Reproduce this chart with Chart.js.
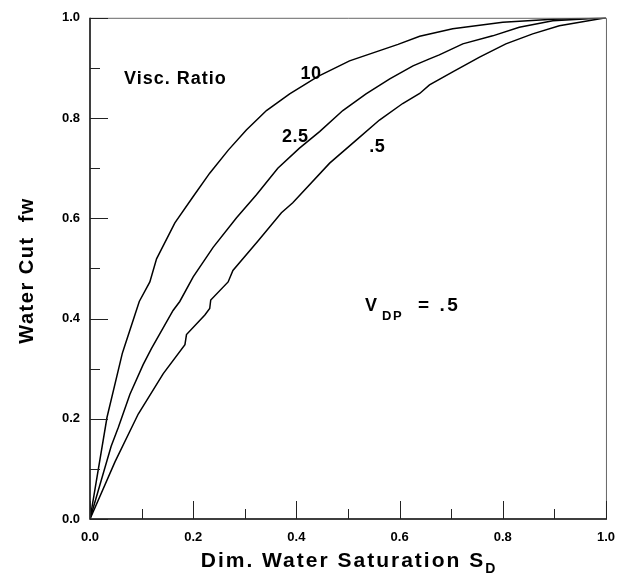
<!DOCTYPE html>
<html>
<head>
<meta charset="utf-8">
<script src="https://cdn.jsdelivr.net/npm/chart.js@4.4.1/dist/chart.umd.min.js"></script>
<style>
  html, body { margin: 0; padding: 0; background: #fff; }
  #wrap { width: 626px; height: 576px; }
</style>
</head>
<body>
<div id="wrap"><canvas id="fwChart" width="626" height="576"></canvas></div>
<script>
// dimensionless water saturation (x) and water cut (y)
const sdVisc10 = [0, 0.033, 0.0625, 0.066, 0.086, 0.0955, 0.116, 0.129, 0.1645, 0.199, 0.232, 0.268, 0.303, 0.342, 0.387, 0.442, 0.503, 0.597, 0.639, 0.703, 0.80, 0.897, 1.0];
const fwVisc10 = [0, 0.203, 0.33, 0.341, 0.404, 0.434, 0.473, 0.519, 0.591, 0.642, 0.690, 0.736, 0.776, 0.815, 0.848, 0.883, 0.914, 0.947, 0.963, 0.978, 0.991, 0.997, 1.0];

const sdVisc25 = [0, 0.041, 0.055, 0.0774, 0.103, 0.119, 0.161, 0.174, 0.2, 0.2386, 0.284, 0.3226, 0.364, 0.406, 0.445, 0.490, 0.535, 0.581, 0.626, 0.658, 0.677, 0.7225, 0.7805, 0.832, 0.897, 1.0];
const fwVisc25 = [0, 0.145, 0.183, 0.249, 0.308, 0.340, 0.416, 0.434, 0.483, 0.542, 0.601, 0.647, 0.700, 0.740, 0.773, 0.815, 0.848, 0.878, 0.904, 0.918, 0.926, 0.948, 0.964, 0.981, 0.994, 1.0];

const sdVisc05 = [0, 0.0484, 0.0935, 0.142, 0.184, 0.187, 0.2226, 0.232, 0.234, 0.2677, 0.277, 0.326, 0.371, 0.393, 0.4645, 0.516, 0.561, 0.606, 0.639, 0.658, 0.703, 0.755, 0.806, 0.858, 0.9096, 1.0];
const fwVisc05 = [0, 0.114, 0.2095, 0.29, 0.348, 0.368, 0.407, 0.42, 0.437, 0.473, 0.496, 0.555, 0.611, 0.631, 0.710, 0.756, 0.796, 0.829, 0.849, 0.866, 0.892, 0.9215, 0.948, 0.968, 0.984, 1.0];

const curveLabels = ["10", "2.5", ".5"];
const majorTicks = [0, 0.2, 0.4, 0.6, 0.8, 1.0];
const minorTicks = [0.1, 0.3, 0.5, 0.7, 0.9];

const FONT = "'Liberation Sans', Arial, sans-serif";

function toPoints(xs, ys) {
    return xs.map((x, i) => ({ x: x, y: ys[i] }));
}

// box, inward ticks, titles and curve notes
const decorations = {
    id: "decorations",
    afterDraw(chart) {
        const ctx = chart.ctx;
        const area = chart.chartArea;
        const xs = chart.scales.x;
        const ys = chart.scales.y;
        ctx.save();

        // frame
        ctx.strokeStyle = "#666";
        ctx.lineWidth = 1;
        ctx.beginPath();
        ctx.moveTo(area.left, area.top + 0.5);
        ctx.lineTo(area.right + 0.5, area.top + 0.5);
        ctx.lineTo(area.right + 0.5, area.bottom);
        ctx.stroke();
        ctx.strokeStyle = "#000";
        ctx.lineWidth = 1.5;
        ctx.beginPath();
        ctx.moveTo(area.left, area.top);
        ctx.lineTo(area.left, area.bottom);
        ctx.lineTo(area.right + 1, area.bottom);
        ctx.stroke();

        // ticks pointing into the plot
        ctx.strokeStyle = "#222";
        ctx.lineWidth = 1;
        const drawTicks = (vals, len) => {
            vals.forEach(v => {
                const px = Math.round(xs.getPixelForValue(v)) + 0.5;
                ctx.beginPath();
                ctx.moveTo(px, area.bottom);
                ctx.lineTo(px, area.bottom - len);
                ctx.stroke();
                const py = Math.round(ys.getPixelForValue(v)) + 0.5;
                ctx.beginPath();
                ctx.moveTo(area.left, py);
                ctx.lineTo(area.left + len, py);
                ctx.stroke();
            });
        };
        drawTicks(majorTicks, 18);
        drawTicks(minorTicks, 10);

        ctx.fillStyle = "#000";

        // x title with subscript
        ctx.font = "bold 21px " + FONT;
        ctx.letterSpacing = "2px";
        const mainText = "Dim. Water Saturation S";
        const w1 = ctx.measureText(mainText).width;
        ctx.font = "bold 14px " + FONT;
        ctx.letterSpacing = "0px";
        const w2 = ctx.measureText("D").width;
        let cx = (area.left + area.right) / 2 - (w1 + w2) / 2;
        ctx.textAlign = "left";
        ctx.textBaseline = "alphabetic";
        ctx.font = "bold 21px " + FONT;
        ctx.letterSpacing = "2px";
        ctx.fillText(mainText, cx, 567);
        ctx.font = "bold 14px " + FONT;
        ctx.letterSpacing = "0px";
        ctx.fillText("D", cx + w1, 573);

        // y title
        ctx.save();
        ctx.translate(33, (area.top + area.bottom) / 2 + 2);
        ctx.rotate(-Math.PI / 2);
        ctx.font = "bold 20px " + FONT;
        ctx.letterSpacing = "1.5px";
        ctx.textAlign = "center";
        ctx.fillText("Water Cut  fw", 0, 0);
        ctx.restore();

        // notes inside the plot
        const at = (x, y) => [xs.getPixelForValue(x), ys.getPixelForValue(y)];
        ctx.textAlign = "left";
        ctx.font = "bold 18px " + FONT;
        ctx.letterSpacing = "1px";
        let p = at(0.066, 0.868);
        ctx.fillText("Visc. Ratio", p[0], p[1]);
        ctx.letterSpacing = "0.5px";
        p = at(0.408, 0.878);
        ctx.fillText(curveLabels[0], p[0], p[1]);
        p = at(0.372, 0.753);
        ctx.fillText(curveLabels[1], p[0], p[1]);
        p = at(0.541, 0.733);
        ctx.fillText(curveLabels[2], p[0], p[1]);

        p = at(0.533, 0.415);
        ctx.fillText("V", p[0], p[1]);
        ctx.font = "bold 13px " + FONT;
        ctx.letterSpacing = "1.5px";
        ctx.fillText("DP", p[0] + 17, p[1] + 9);
        ctx.font = "bold 19px " + FONT;
        ctx.letterSpacing = "2.5px";
        ctx.fillText("= .5", p[0] + 53, p[1]);

        ctx.restore();
    }
};

const lineStyle = {
    showLine: true,
    borderColor: "#000",
    borderWidth: 1.5,
    pointRadius: 0,
    tension: 0,
    fill: false
};

new Chart(document.getElementById("fwChart").getContext("2d"), {
    type: "scatter",
    data: {
        datasets: [
            Object.assign({ label: curveLabels[0], data: toPoints(sdVisc10, fwVisc10) }, lineStyle),
            Object.assign({ label: curveLabels[1], data: toPoints(sdVisc25, fwVisc25) }, lineStyle),
            Object.assign({ label: curveLabels[2], data: toPoints(sdVisc05, fwVisc05) }, lineStyle)
        ]
    },
    options: {
        responsive: false,
        animation: false,
        devicePixelRatio: 1,
        layout: { padding: { top: 13, right: 19, left: 0, bottom: 0 } },
        plugins: {
            legend: { display: false },
            tooltip: { enabled: false }
        },
        scales: {
            x: {
                type: "linear",
                min: 0,
                max: 1,
                grid: { display: false, drawTicks: false },
                border: { display: false },
                afterBuildTicks: scale => { scale.ticks = majorTicks.map(v => ({ value: v })); },
                afterFit: scale => { scale.height = 57; },
                ticks: {
                    padding: 11,
                    color: "#000",
                    maxRotation: 0,
                    font: { family: FONT, size: 13, weight: "bold" },
                    callback: v => Number(v).toFixed(1)
                }
            },
            y: {
                type: "linear",
                min: 0,
                max: 1,
                grid: { display: false, drawTicks: false },
                border: { display: false },
                afterBuildTicks: scale => { scale.ticks = majorTicks.map(v => ({ value: v })); },
                afterFit: scale => { scale.width = 90; },
                ticks: {
                    padding: 10,
                    color: "#000",
                    font: { family: FONT, size: 13, weight: "bold" },
                    callback: v => Number(v).toFixed(1)
                }
            }
        }
    },
    plugins: [decorations]
});
</script>
</body>
</html>
